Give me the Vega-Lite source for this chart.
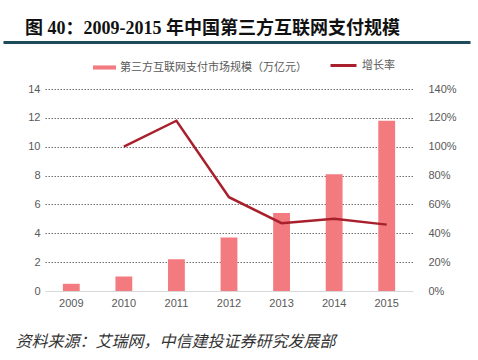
{
  "$schema": "https://vega.github.io/schema/vega-lite/v6.json",
  "background": "white",
  "autosize": "none",
  "padding": {"left": 45, "top": 89, "right": 65, "bottom": 69},
  "width": 368,
  "height": 202,
  "title": {
    "text": "图 40：2009-2015 年中国第三方互联网支付规模",
    "anchor": "start",
    "frame": "bounds",
    "dx": 10,
    "font": "Liberation Serif, Noto Sans CJK SC",
    "fontSize": 18,
    "fontWeight": "bold",
    "color": "#111111",
    "offset": 4
  },
  "data": {
    "values": [
      {"year": "2009", "scale": 0.5, "growth": null},
      {"year": "2010", "scale": 1.0, "growth": 1.0},
      {"year": "2011", "scale": 2.2, "growth": 1.18},
      {"year": "2012", "scale": 3.7, "growth": 0.65},
      {"year": "2013", "scale": 5.4, "growth": 0.47},
      {"year": "2014", "scale": 8.1, "growth": 0.5},
      {"year": "2015", "scale": 11.8, "growth": 0.46}
    ]
  },
  "layer": [
    {
      "encoding": {
        "x": {
          "field": "year",
          "type": "ordinal",
          "scale": {"paddingInner": 0.68, "paddingOuter": 0.34},
          "axis": {
            "title": "资料来源：艾瑞网，中信建投证券研究发展部",
            "titleAnchor": "start",
            "titleAlign": "left",
            "titleX": -30,
            "titlePadding": 25,
            "titleFont": "Noto Sans CJK SC",
            "titleFontSize": 16,
            "titleFontStyle": "italic",
            "titleFontWeight": "normal",
            "titleColor": "#333333",
            "labelAngle": 0,
            "labelFont": "Liberation Sans",
            "labelFontSize": 11,
            "labelColor": "#595959",
            "labelPadding": 6,
            "ticks": false,
            "domainColor": "#D9D9D9",
            "domainWidth": 1
          }
        }
      },
      "layer": [
        {
          "mark": {"type": "bar"},
          "encoding": {
            "y": {
              "field": "scale",
              "type": "quantitative",
              "scale": {"domain": [0, 14], "nice": false},
              "axis": {
                "title": null,
                "values": [0, 2, 4, 6, 8, 10, 12, 14],
                "labelFont": "Liberation Sans",
                "labelFontSize": 11,
                "labelColor": "#595959",
                "labelPadding": 5,
                "ticks": false,
                "domain": false,
                "grid": true,
                "gridColor": {"condition": {"test": "datum.value === 0", "value": "transparent"}, "value": "#6F6F6F"},
                "gridDash": [1.5, 1.5],
                "gridWidth": 1
              }
            },
            "fill": {
              "datum": "第三方互联网支付市场规模（万亿元）",
              "scale": {"range": ["#F37B80"]},
              "legend": {
                "title": null,
                "orient": "none",
                "legendX": 48,
                "legendY": -33,
                "symbolType": "M-1,-0.18L1,-0.18L1,0.18L-1,0.18Z",
                "symbolSize": 529,
                "symbolStrokeWidth": 0,
                "labelFont": "Noto Sans CJK SC",
                "labelFontSize": 11,
                "labelColor": "#595959",
                "labelLimit": 300
              }
            }
          }
        },
        {
          "mark": {"type": "line", "strokeWidth": 2.5},
          "encoding": {
            "y": {
              "field": "growth",
              "type": "quantitative",
              "scale": {"domain": [0, 1.4], "nice": false},
              "axis": {
                "title": null,
                "orient": "right",
                "values": [0, 0.2, 0.4, 0.6, 0.8, 1.0, 1.2, 1.4],
                "format": ".0%",
                "labelFont": "Liberation Sans",
                "labelFontSize": 11,
                "labelColor": "#595959",
                "labelPadding": 15,
                "ticks": false,
                "domain": false,
                "grid": false
              }
            },
            "stroke": {
              "datum": "增长率",
              "scale": {"range": ["#A8202C"]},
              "legend": {
                "title": null,
                "orient": "none",
                "legendX": 284,
                "legendY": -38,
                "symbolType": "stroke",
                "symbolStrokeWidth": 3,
                "symbolSize": 676,
                "labelFont": "Noto Sans CJK SC",
                "labelFontSize": 11,
                "labelColor": "#595959",
                "labelLimit": 200
              }
            }
          }
        }
      ],
      "resolve": {"scale": {"y": "independent", "x": "shared"}}
    },
    {
      "mark": {"type": "point", "opacity": 0},
      "encoding": {
        "x": {
          "field": "year",
          "type": "ordinal",
          "scale": {"range": [-42, 425]},
          "axis": {
            "orient": "top",
            "offset": 47,
            "title": null,
            "labels": false,
            "ticks": false,
            "grid": false,
            "domainColor": "#1E4A5A",
            "domainWidth": 3
          }
        }
      }
    }
  ],
  "resolve": {"scale": {"x": "independent"}},
  "config": {
    "view": {"stroke": null}
  }
}
